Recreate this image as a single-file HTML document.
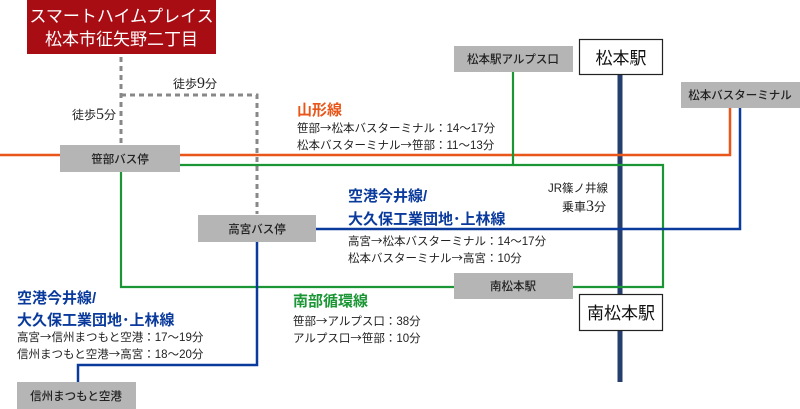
<!DOCTYPE html>
<html><head><meta charset="utf-8"><style>
html,body{margin:0;padding:0;background:#fff;}
svg{display:block;font-family:"Liberation Sans","Noto Sans CJK JP",sans-serif;}
.a{font-family:"Noto Sans CJK JP",sans-serif;}
</style></head><body>
<svg width="800" height="409" viewBox="0 0 800 409" xmlns="http://www.w3.org/2000/svg">
<g stroke="#888" stroke-width="3" stroke-dasharray="5,4" fill="none">
<path d="M121 57 V146"/>
<path d="M121 95 H257 V214"/>
</g>
<path d="M620 75 V382" stroke="#253e6e" stroke-width="5"/>
<path d="M0 155 H730 V108" stroke="#e8561a" stroke-width="2.5" fill="none"/>
<path d="M180 165 H663 V287 H121 V172" stroke="#1a9634" stroke-width="2.2" fill="none"/>
<path d="M513 72 V165" stroke="#1a9634" stroke-width="2.2"/>
<path d="M316 229 H740 V108" stroke="#0a3a9c" stroke-width="2.5" fill="none"/>
<path d="M257 242 V365 H78 V382" stroke="#0a3a9c" stroke-width="2.5" fill="none"/>
<rect x="27" y="0" width="189" height="54" fill="#a90d14"/>
<text x="121.5" y="22" fill="#fff" font-size="17" text-anchor="middle">スマートハイムプレイス</text>
<text x="121.5" y="45" fill="#fff" font-size="17" text-anchor="middle">松本市征矢野二丁目</text>
<g fill="#b5b5b5">
<rect x="60" y="145" width="120" height="27"/>
<rect x="454" y="46" width="119" height="26"/>
<rect x="681" y="82" width="119" height="26"/>
<rect x="198" y="215" width="118" height="27"/>
<rect x="454" y="273" width="119" height="26"/>
<rect x="17" y="382" width="119" height="27"/>
</g>
<g font-size="11.5" fill="#222" text-anchor="middle" font-weight="500">
<text x="120" y="163">笹部バス停</text>
<text x="513" y="63">松本駅アルプス口</text>
<text x="740" y="99">松本バスターミナル</text>
<text x="257" y="233">高宮バス停</text>
<text x="513" y="290">南松本駅</text>
<text x="76" y="400">信州まつもと空港</text>
</g>
<rect x="579.5" y="39.5" width="83" height="35" fill="#fff" stroke="#222" stroke-width="1.2"/>
<text x="621" y="64" font-size="17" text-anchor="middle" fill="#111">松本駅</text>
<rect x="579.5" y="294.5" width="83" height="36" fill="#fff" stroke="#222" stroke-width="1.2"/>
<text x="621" y="319" font-size="17" text-anchor="middle" fill="#111">南松本駅</text>
<text x="72" y="119" font-size="12" fill="#222">徒歩<tspan font-family="Liberation Serif" font-size="16">5</tspan>分</text>
<text x="173" y="88" font-size="12" fill="#222">徒歩<tspan font-family="Liberation Serif" font-size="16">9</tspan>分</text>
<text x="297" y="115" font-size="15" font-weight="bold" fill="#e8561a">山形線</text>
<g font-size="11.5" fill="#222">
<text x="297" y="132">笹部<tspan class="a">→</tspan>松本バスターミナル：14〜17分</text>
<text x="297" y="149">松本バスターミナル<tspan class="a">→</tspan>笹部：11〜13分</text>
</g>
<text x="608" y="192" font-size="11.5" fill="#222" text-anchor="end">JR篠ノ井線</text>
<text x="606" y="211" font-size="12" fill="#222" text-anchor="end">乗車<tspan font-family="Liberation Serif" font-size="16">3</tspan>分</text>
<g font-size="15" fill="#0a3a9c" font-weight="bold">
<text x="348" y="201">空港今井線/</text>
<text x="348" y="224">大久保工業団地･上林線</text>
<text x="17" y="303">空港今井線/</text>
<text x="17" y="325">大久保工業団地･上林線</text>
</g>
<g font-size="11.5" fill="#222">
<text x="348" y="245">高宮<tspan class="a">→</tspan>松本バスターミナル：14〜17分</text>
<text x="348" y="262">松本バスターミナル<tspan class="a">→</tspan>高宮：10分</text>
<text x="17" y="341">高宮<tspan class="a">→</tspan>信州まつもと空港：17〜19分</text>
<text x="17" y="358">信州まつもと空港<tspan class="a">→</tspan>高宮：18〜20分</text>
</g>
<text x="293" y="306" font-size="15" font-weight="bold" fill="#1a9634">南部循環線</text>
<g font-size="11.5" fill="#222">
<text x="293" y="325">笹部<tspan class="a">→</tspan>アルプス口：38分</text>
<text x="293" y="342">アルプス口<tspan class="a">→</tspan>笹部：10分</text>
</g>
</svg>
</body></html>
